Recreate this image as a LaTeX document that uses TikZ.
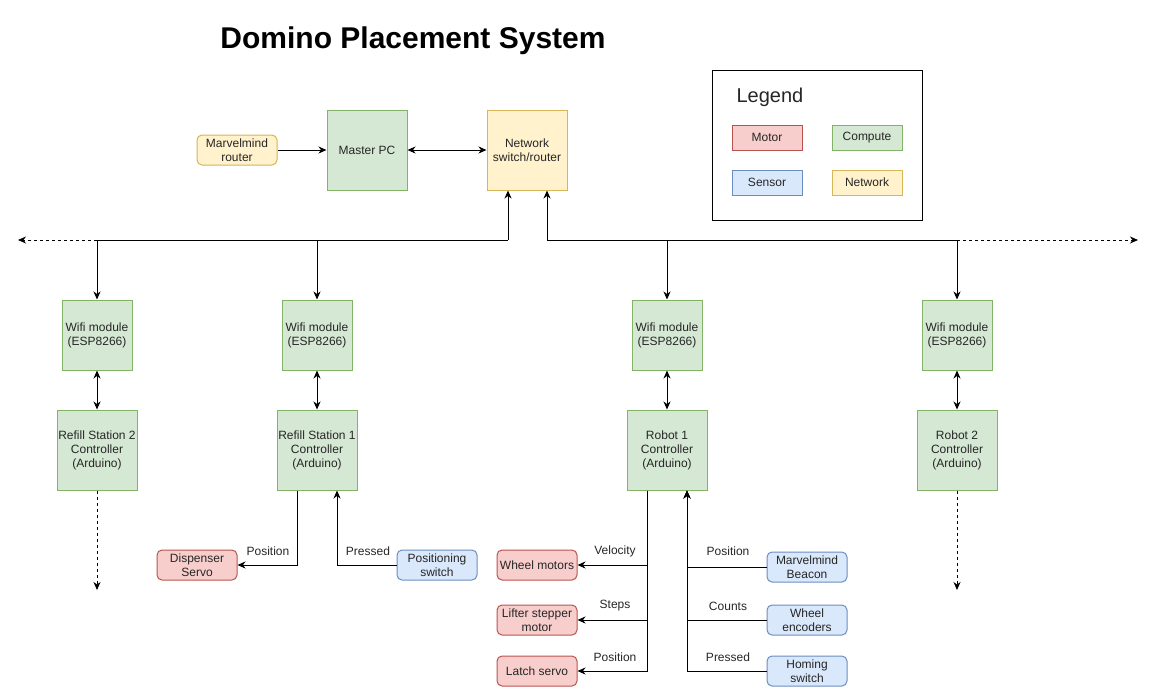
\documentclass[tikz,border=0pt]{standalone}
\usepackage{fontspec}
\setmainfont{Liberation Sans}
\usetikzlibrary{arrows.meta}
\definecolor{gF}{HTML}{D5E8D4}\definecolor{gD}{HTML}{82B366}
\definecolor{rF}{HTML}{F8CECC}\definecolor{rD}{HTML}{B85450}
\definecolor{bF}{HTML}{DAE8FC}\definecolor{bD}{HTML}{6C8EBF}
\definecolor{yF}{HTML}{FFF2CC}\definecolor{yD}{HTML}{D6B656}
\begin{document}
\begin{tikzpicture}[x=1pt,y=-1pt,
  every node/.style={font=\fontsize{12}{14}\selectfont, text=black!85},
  bx/.style={draw, line width=1pt, inner sep=0pt, align=center},
  compute/.style={bx, fill=gF, draw=gD},
  motor/.style={bx, fill=rF, draw=rD},
  sensor/.style={bx, fill=bF, draw=bD},
  network/.style={bx, fill=yF, draw=yD},
  sq/.style={minimum width=80, minimum height=80},
  wifi/.style={compute, minimum width=70, minimum height=70},
  small/.style={rounded corners=5pt, minimum width=80, minimum height=30},
  legitem/.style={minimum width=70, minimum height=25},
  lbl/.style={inner sep=1pt},
  line/.style={line width=1pt},
  arr/.style={line, -{Stealth[length=8pt,width=7pt,inset=2.5pt]}},
  darr/.style={line, {Stealth[length=8pt,width=7pt,inset=2.5pt]}-{Stealth[length=8pt,width=7pt,inset=2.5pt]}},
  dsh/.style={dash pattern=on 3pt off 3pt}
]
\useasboundingbox (0,0) rectangle (1156,697);

\node[font=\bfseries\fontsize{30}{34}\selectfont, text=black] (title) at (413,41) {Domino Placement System};

% legend
\node[draw, line width=1pt, minimum width=210, minimum height=150, inner sep=0pt] (leg) at (817,145) {};
\node[anchor=west, font=\fontsize{20}{24}\selectfont] (legt) at (733,97) {Legend};
\node[motor, legitem] (lmotor) at (767,137.5) {Motor};
\node[compute, legitem] (lcomp) at (867,137.5) {Compute};
\node[sensor, legitem] (lsens) at (767,182.5) {Sensor};
\node[network, legitem] (lnet) at (867,182.5) {Network};

% top
\node[network, small] (mm) at (237,150) {Marvelmind\\router};
\node[compute, sq] (pc) at (367,150) {Master PC};
\node[network, sq] (net) at (527,150) {Network\\switch/router};
\draw[arr] (mm) -- (pc);
\draw[darr] (pc) -- (net);

% wifi modules
\node[wifi] (w1) at (97,335) {Wifi module\\(ESP8266)};
\node[wifi] (w2) at (317,335) {Wifi module\\(ESP8266)};
\node[wifi] (w3) at (667,335) {Wifi module\\(ESP8266)};
\node[wifi] (w4) at (957,335) {Wifi module\\(ESP8266)};

% controllers
\node[compute, sq] (c1) at (97,450) {Refill Station 2\\Controller\\(Arduino)};
\node[compute, sq] (c2) at (317,450) {Refill Station 1\\Controller\\(Arduino)};
\node[compute, sq] (r1) at (667,450) {Robot 1\\Controller\\(Arduino)};
\node[compute, sq] (r2) at (957,450) {Robot 2\\Controller\\(Arduino)};

% bus
\coordinate (jL) at (508,240);
\coordinate (jR) at (547,240);
\coordinate (endL) at (18,240);
\coordinate (endR) at (1138,240);
\draw[arr] (jL) -- (jL |- net.south);
\draw[arr] (jR) -- (jR |- net.south);
\draw[line] (jL) -- (w1.north |- jL);
\draw[line] (jR) -- (w4.north |- jR);
\draw[arr, dsh] (w1.north |- jL) -- (endL);
\draw[arr, dsh] (w4.north |- jR) -- (endR);
\draw[arr] (w1.north |- jL) -- (w1.north);
\draw[arr] (w2.north |- jL) -- (w2.north);
\draw[arr] (w3.north |- jR) -- (w3.north);
\draw[arr] (w4.north |- jR) -- (w4.north);

\draw[darr] (w1) -- (c1);
\draw[darr] (w2) -- (c2);
\draw[darr] (w3) -- (r1);
\draw[darr] (w4) -- (r2);

% dashed continuations
\coordinate (c1end) at (97,590);
\coordinate (r2end) at (957,590);
\draw[arr, dsh] (c1) -- (c1end);
\draw[arr, dsh] (r2) -- (r2end);

% refill station 1 peripherals
\node[motor, small] (ds) at (197,565) {Dispenser\\Servo};
\node[sensor, small] (ps) at (437,565) {Positioning\\switch};
\draw[arr] ([xshift=-20]c2.south) |- (ds.east);
\draw[arr] (ps.west) -| ([xshift=20]c2.south);
\node[lbl] (lpos1) at (268,551) {Position};
\node[lbl] (lpr1) at (368,551) {Pressed};

% robot 1 peripherals
\node[motor, small] (wm) at (537,565) {Wheel motors};
\node[motor, small] (lsm) at (537,620) {Lifter stepper\\motor};
\node[motor, small] (lts) at (537,671) {Latch servo};
\node[sensor, small] (mb) at (807,567) {Marvelmind\\Beacon};
\node[sensor, small] (we) at (807,620) {Wheel\\encoders};
\node[sensor, small] (hs) at (807,671) {Homing\\switch};
\draw[arr] ([xshift=-20]r1.south) |- (wm.east);
\draw[arr] ([xshift=-20]r1.south) |- (lsm.east);
\draw[arr] ([xshift=-20]r1.south) |- (lts.east);
\draw[arr] (mb.west) -| ([xshift=20]r1.south);
\draw[arr] (we.west) -| ([xshift=20]r1.south);
\draw[arr] (hs.west) -| ([xshift=20]r1.south);
\node[lbl] (lvel) at (615,551) {Velocity};
\node[lbl] (lstp) at (615,606) {Steps};
\node[lbl] (lpos2) at (615,657) {Position};
\node[lbl] (lpos3) at (728,551) {Position};
\node[lbl] (lcnt) at (728,606) {Counts};
\node[lbl] (lpr2) at (728,657) {Pressed};
\end{tikzpicture}
\end{document}
